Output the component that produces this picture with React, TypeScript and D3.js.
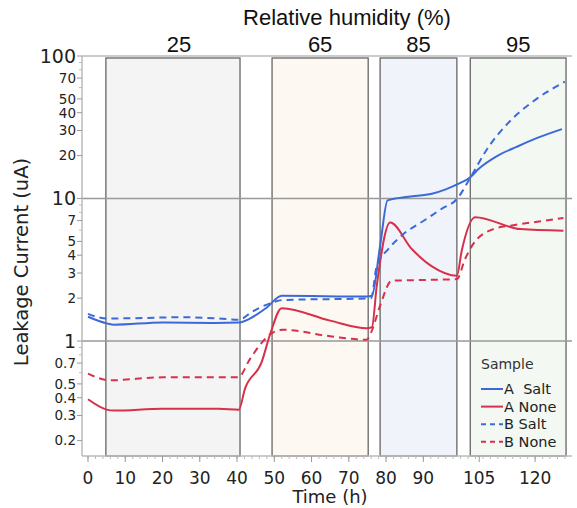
import * as d3 from "d3";
import { useEffect, useRef } from "react";

// humidity phases (hours)
const phaseLabels = ["25", "65", "85", "95"];
const phaseStart = [4.8, 49.4, 78.4, 102.6];
const phaseEnd = [40.8, 75.2, 99, 128.3];
const phaseFill = ["#f4f4f4", "#fdf8f1", "#f0f4fa", "#f3f8f3"];

const xTicks = [0, 10, 20, 30, 40, 50, 60, 70, 80, 90, 105, 120];
const yTicks = [0.2, 0.3, 0.4, 0.5, 0.7, 1, 2, 3, 4, 5, 7, 10, 20, 30, 40, 50, 70, 100];
const yMinor = [0.6, 0.8, 0.9, 6, 8, 9, 60, 80, 90];
const yBig = [1, 10, 100];

const aSaltT = [0, 5, 7, 20, 34, 40.5, 44.3, 48, 52, 75, 76.2, 78.4, 80.4, 86, 92.3, 96, 99.5, 102.6, 104.8, 110, 115, 120.4, 127.2];
const aSaltV = [1.48, 1.33, 1.3, 1.35, 1.34, 1.35, 1.48, 1.72, 2.08, 2.05, 2.08, 4.66, 9.7, 10.3, 10.8, 11.6, 12.7, 14.1, 16.1, 20, 23, 26.5, 30.7];

const bSaltT = [0, 5, 15, 25, 35, 40.5, 44, 48.9, 52.4, 75, 76, 77.5, 80.6, 84.2, 90.9, 95, 99, 102.6, 107, 113.3, 120.4, 128];
const bSaltV = [1.55, 1.44, 1.45, 1.47, 1.44, 1.41, 1.6, 1.84, 1.94, 1.99, 2.0, 3.38, 4.42, 5.5, 7.2, 8.5, 9.9, 14.0, 22, 35, 50, 66];

const aNoneT = [0, 5, 7, 20, 35, 40.5, 42.1, 46.6, 48.9, 52, 65, 74.8, 76.2, 77.5, 81.1, 86.9, 92.3, 99, 100.3, 103.9, 116, 127.6];
const aNoneV = [0.39, 0.33, 0.325, 0.335, 0.335, 0.33, 0.46, 0.71, 1.12, 1.7, 1.39, 1.23, 1.25, 2.44, 6.8, 4.42, 3.34, 2.87, 4.3, 7.4, 6.1, 5.95];

const bNoneT = [0, 5.9, 20, 40.3, 43.5, 46.6, 49.7, 52.4, 65, 74.8, 76, 78.4, 81.5, 90, 99, 101.2, 103.4, 108.8, 114.2, 121, 127.6];
const bNoneV = [0.59, 0.53, 0.556, 0.556, 0.75, 0.97, 1.15, 1.2, 1.08, 1.02, 1.15, 1.77, 2.65, 2.68, 2.72, 3.76, 4.8, 6.1, 6.5, 6.9, 7.3];

const blue = "#3b6ad8";
const red = "#d7304a";

const series = [
  { name: "A  Salt", t: aSaltT, v: aSaltV, color: blue, dash: null },
  { name: "A None", t: aNoneT, v: aNoneV, color: red, dash: null },
  { name: "B Salt", t: bSaltT, v: bSaltV, color: blue, dash: "7,5" },
  { name: "B None", t: bNoneT, v: bNoneV, color: red, dash: "7,5" },
];

export default function App() {
  const ref = useRef<SVGSVGElement>(null);

  useEffect(() => {
    const svg = d3.select(ref.current);
    svg.selectAll("*").remove();

    const left = 82, right = 572, top = 56, bottom = 456;
    const x = d3.scaleLinear().domain([-1.61, 129.9]).range([left, right]);
    const y = d3.scaleLog().domain([0.156, 100]).range([bottom, top]);
    const font = "DejaVu Sans, sans-serif";
    const titleFont = "Liberation Sans, Arial, sans-serif";

    // phase boxes
    phaseLabels.forEach((lab, i) => {
      const x0 = x(phaseStart[i]), x1 = x(phaseEnd[i]);
      svg.append("rect")
        .attr("x", x0).attr("y", top + 2)
        .attr("width", x1 - x0).attr("height", bottom - top - 2)
        .attr("fill", phaseFill[i])
        .attr("stroke", "#666").attr("stroke-width", 1.3);
      svg.append("text")
        .attr("x", (x0 + x1) / 2 + (i === 0 ? 6 : 0)).attr("y", 52)
        .attr("text-anchor", "middle")
        .style("font-family", titleFont).style("font-size", "22px")
        .attr("fill", "#111")
        .text(lab);
    });

    svg.append("text")
      .attr("x", 347).attr("y", 25)
      .attr("text-anchor", "middle")
      .style("font-family", titleFont).style("font-size", "22px")
      .attr("fill", "#111")
      .text("Relative humidity (%)");

    // grid at decades
    [1, 10].forEach((d) => {
      svg.append("line")
        .attr("x1", left).attr("x2", right)
        .attr("y1", y(d)).attr("y2", y(d))
        .attr("stroke", "#999").attr("stroke-width", 1.3);
    });

    // frame
    svg.append("line").attr("x1", left).attr("x2", right).attr("y1", top).attr("y2", top)
      .attr("stroke", "#bbb").attr("stroke-width", 1.5);
    svg.append("line").attr("x1", left).attr("x2", left).attr("y1", top).attr("y2", bottom)
      .attr("stroke", "#bbb").attr("stroke-width", 1.5);
    svg.append("line").attr("x1", left).attr("x2", right).attr("y1", bottom).attr("y2", bottom)
      .attr("stroke", "#bbb").attr("stroke-width", 1.5);

    // y ticks
    const yg = svg.append("g");
    yg.selectAll("line.major").data(yTicks).enter().append("line")
      .attr("x1", left - 5).attr("x2", left)
      .attr("y1", (d) => y(d)).attr("y2", (d) => y(d))
      .attr("stroke", "#999");
    yg.selectAll("line.minor").data(yMinor).enter().append("line")
      .attr("x1", left - 3).attr("x2", left)
      .attr("y1", (d) => y(d)).attr("y2", (d) => y(d))
      .attr("stroke", "#bbb");
    yg.selectAll("text").data(yTicks).enter().append("text")
      .attr("x", left - 6).attr("y", (d) => y(d))
      .attr("dy", "0.36em")
      .attr("text-anchor", "end")
      .style("font-family", font)
      .style("font-size", (d) => (yBig.includes(d) ? "19px" : "13.5px"))
      .attr("fill", "#222")
      .text((d) => String(d));

    // x ticks
    const xg = svg.append("g");
    const xMinor = d3.range(0, 130, 2);
    xg.selectAll("line.minor").data(xMinor).enter().append("line")
      .attr("x1", (d) => x(d)).attr("x2", (d) => x(d))
      .attr("y1", bottom).attr("y2", bottom + 3)
      .attr("stroke", "#bbb");
    xg.selectAll("line.major").data(xTicks).enter().append("line")
      .attr("x1", (d) => x(d)).attr("x2", (d) => x(d))
      .attr("y1", bottom).attr("y2", bottom + 6)
      .attr("stroke", "#999");
    xg.selectAll("text").data(xTicks).enter().append("text")
      .attr("x", (d) => x(d)).attr("y", 484)
      .attr("text-anchor", "middle")
      .style("font-family", font).style("font-size", "17px")
      .attr("fill", "#222")
      .text((d) => String(d));

    // axis titles
    svg.append("text")
      .attr("x", 330).attr("y", 503)
      .attr("text-anchor", "middle")
      .style("font-family", font).style("font-size", "18px")
      .attr("fill", "#222")
      .text("Time (h)");
    svg.append("text")
      .attr("transform", "translate(28,262) rotate(-90)")
      .attr("text-anchor", "middle")
      .style("font-family", font).style("font-size", "19.5px")
      .attr("fill", "#222")
      .text("Leakage Current (uA)");

    // curves
    const line = d3.line<[number, number]>()
      .x((d) => x(d[0]))
      .y((d) => y(d[1]))
      .curve(d3.curveMonotoneX);
    series.forEach((s) => {
      const pts = s.t.map((t, i) => [t, s.v[i]] as [number, number]);
      svg.append("path")
        .attr("d", line(pts))
        .attr("fill", "none")
        .attr("stroke", s.color)
        .attr("stroke-width", 2)
        .attr("stroke-dasharray", s.dash);
    });

    // legend
    const lg = svg.append("g").attr("transform", "translate(481,0)");
    lg.append("text")
      .attr("x", 0).attr("y", 369)
      .style("font-family", font).style("font-size", "14px")
      .attr("fill", "#333")
      .text("Sample");
    series.forEach((s, i) => {
      const cy = 389 + i * 17.6;
      lg.append("line")
        .attr("x1", 0).attr("x2", 22)
        .attr("y1", cy).attr("y2", cy)
        .attr("stroke", s.color).attr("stroke-width", 2)
        .attr("stroke-dasharray", s.dash ? "5,4" : null);
      lg.append("text")
        .attr("x", 23).attr("y", cy + 5)
        .style("font-family", font).style("font-size", "14.5px")
        .style("white-space", "pre")
        .attr("fill", "#222")
        .text(s.name);
    });
  }, []);

  return (
    <svg
      ref={ref}
      width={577}
      height={508}
      style={{ position: "absolute", left: 0, top: 0, background: "#fff" }}
    />
  );
}
